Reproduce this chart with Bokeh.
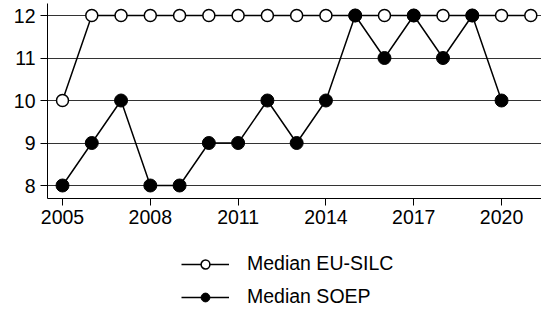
from bokeh.plotting import figure
from bokeh.models import FixedTicker, Range1d, Legend, LegendItem
from bokeh.layouts import column
from bokeh.embed import file_html
from bokeh.resources import INLINE

years_silc = [2005, 2006, 2007, 2008, 2009, 2010, 2011, 2012, 2013,
              2014, 2015, 2016, 2017, 2018, 2019, 2020, 2021]
median_silc = [10, 12, 12, 12, 12, 12, 12, 12, 12, 12, 12, 12, 12, 12, 12, 12, 12]

years_soep = [2005, 2006, 2007, 2008, 2009, 2010, 2011, 2012, 2013,
              2014, 2015, 2016, 2017, 2018, 2019, 2020]
median_soep = [8, 9, 10, 8, 8, 9, 9, 10, 9, 10, 12, 11, 12, 11, 12, 10]

x_ticks = [2005, 2008, 2011, 2014, 2017, 2020]
y_ticks = [8, 9, 10, 11, 12]
labels = ["Median EU-SILC", "Median SOEP"]

FONT = "Liberation Sans"
FS = "19.5px"

# pixel scale: 2005 -> 62px, 2020 -> 501px ; 12 -> 15px, 8 -> 185px
x0 = 2005 - 15 / 29.27
x1 = x0 + 494 / 29.27
y1 = 12 + 12 / 42.5
y0 = 8 - 13 / 42.5

p = figure(width=541, height=234, output_backend="svg",
           toolbar_location=None,
           x_range=Range1d(x0, x1), y_range=Range1d(y0, y1),
           min_border_left=47, min_border_right=0, min_border_top=3,
           min_border_bottom=36)
p.outline_line_color = None
p.background_fill_color = "white"
p.border_fill_color = "white"

p.xgrid.visible = False
p.ygrid.grid_line_color = "black"
p.ygrid.grid_line_alpha = 0.8
p.ygrid.grid_line_width = 1

for ax in (p.xaxis, p.yaxis):
    ax.axis_line_color = "black"
    ax.axis_line_width = 1
    ax.major_tick_line_color = "black"
    ax.major_tick_out = 7
    ax.major_tick_in = 0
    ax.minor_tick_line_color = None
    ax.major_label_text_font = FONT
    ax.major_label_text_font_size = FS
    ax.major_label_text_color = "black"

p.xaxis.ticker = FixedTicker(ticks=x_ticks)
p.yaxis.ticker = FixedTicker(ticks=y_ticks)
p.xaxis.major_label_standoff = 4
p.yaxis.major_label_standoff = 5

line_kw = dict(line_color="black", line_width=1.5)
silc_marker = dict(marker="circle", size=12, fill_color="white",
                   line_color="black", line_width=1.5)
soep_marker = dict(marker="circle", size=13, fill_color="black",
                   line_color="black", line_width=1)

p.line(years_silc, median_silc, **line_kw)
p.scatter(years_silc, median_silc, **silc_marker)
p.line(years_soep, median_soep, **line_kw)
p.scatter(years_soep, median_soep, **soep_marker)

# legend panel below the chart (proxy renderers lie outside its view)
q = figure(width=541, height=75, output_backend="svg", toolbar_location=None,
           x_range=Range1d(0, 1), y_range=Range1d(0, 1),
           x_axis_location=None, y_axis_location=None,
           min_border_left=0, min_border_right=0, min_border_top=0,
           min_border_bottom=0)
q.grid.visible = False
q.outline_line_color = None
q.background_fill_color = "white"
q.border_fill_color = "white"

leg_silc_marker = dict(silc_marker, size=11)
leg_soep_marker = dict(soep_marker, size=12)

ql1 = q.line(years_silc[:2], median_silc[:2], **line_kw)
qm1 = q.scatter(years_silc[:1], median_silc[:1], **leg_silc_marker)
ql2 = q.line(years_soep[:2], median_soep[:2], **line_kw)
qm2 = q.scatter(years_soep[:1], median_soep[:1], **leg_soep_marker)

legend = Legend(items=[LegendItem(label=labels[0], renderers=[ql1, qm1]),
                       LegendItem(label=labels[1], renderers=[ql2, qm2])],
                location=(134, 1), orientation="vertical",
                glyph_width=48, glyph_height=22, label_height=22,
                label_standoff=18, spacing=10, padding=0, margin=0,
                border_line_color=None, background_fill_alpha=0,
                label_text_font=FONT, label_text_font_size=FS,
                label_text_color="black")
q.add_layout(legend, "center")

layout = column(p, q, spacing=0)
open("out.html", "w").write(file_html(layout, INLINE))
